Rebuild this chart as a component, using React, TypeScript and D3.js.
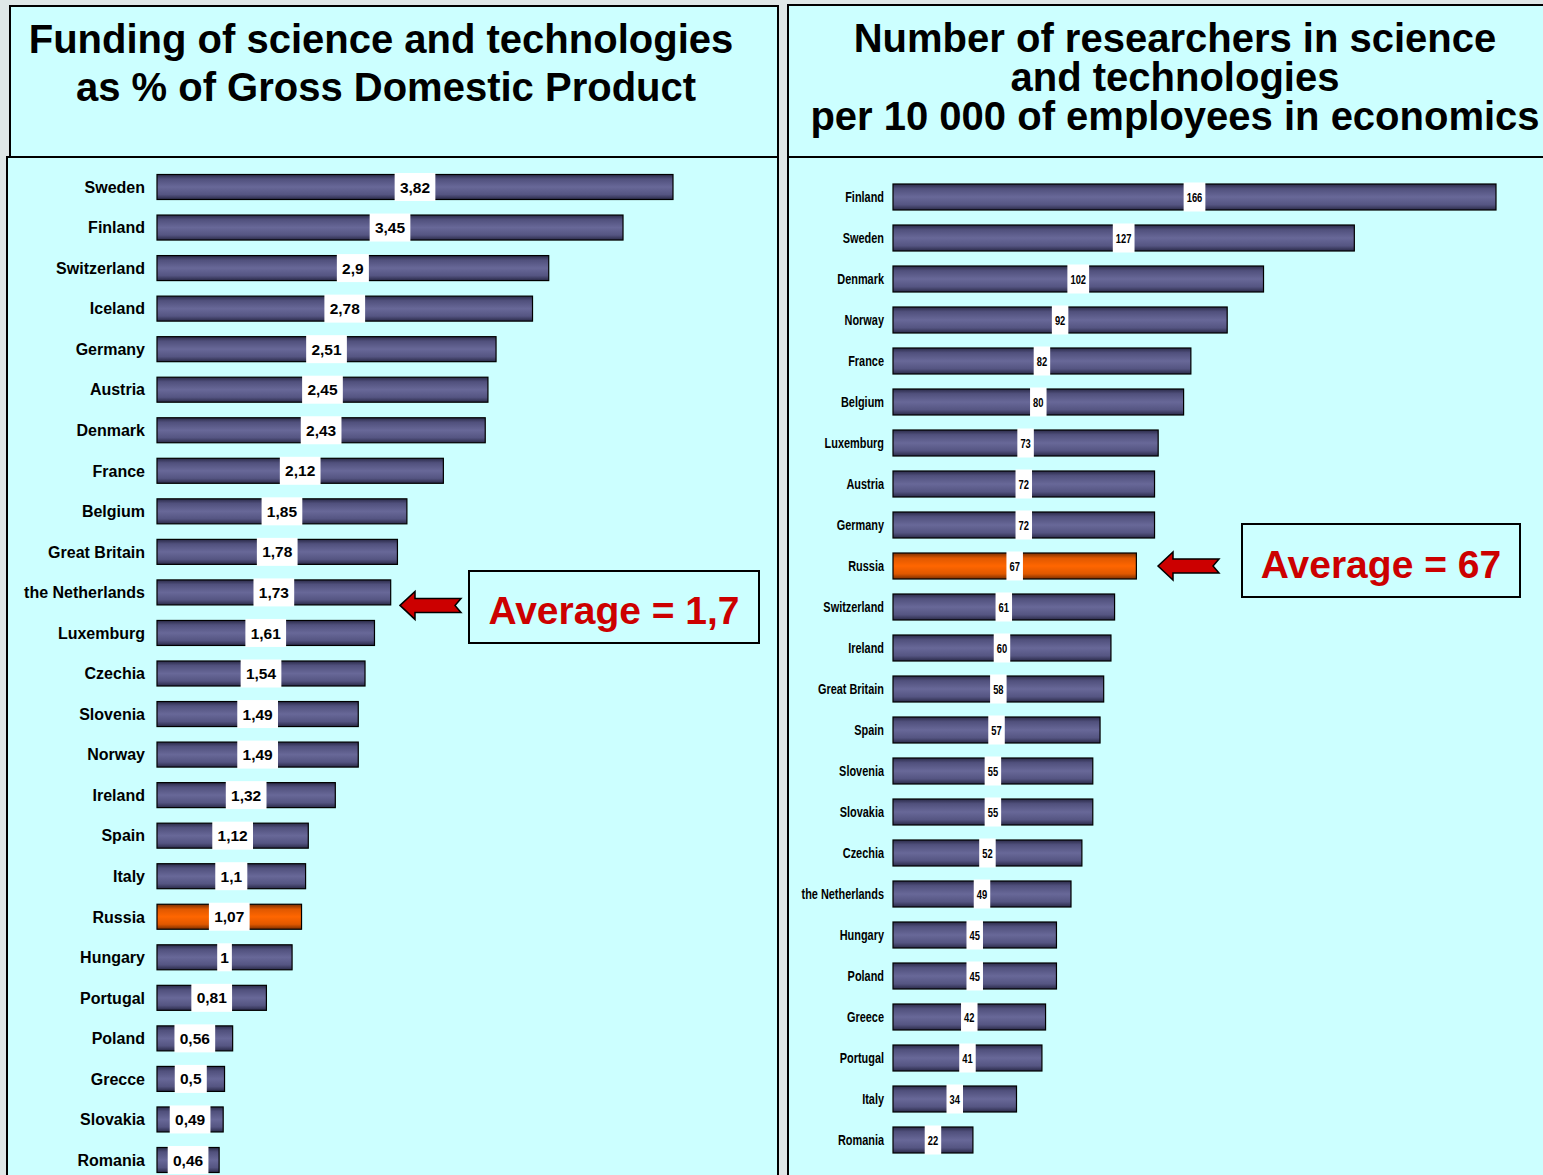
import React from "react";
import * as d3 from "d3";

const leftCountries = ["Sweden","Finland","Switzerland","Iceland","Germany","Austria","Denmark","France","Belgium","Great Britain","the Netherlands","Luxemburg","Czechia","Slovenia","Norway","Ireland","Spain","Italy","Russia","Hungary","Portugal","Poland","Grecce","Slovakia","Romania"];
const leftValues = [3.82,3.45,2.9,2.78,2.51,2.45,2.43,2.12,1.85,1.78,1.73,1.61,1.54,1.49,1.49,1.32,1.12,1.1,1.07,1,0.81,0.56,0.5,0.49,0.46];
const rightCountries = ["Finland","Sweden","Denmark","Norway","France","Belgium","Luxemburg","Austria","Germany","Russia","Switzerland","Ireland","Great Britain","Spain","Slovenia","Slovakia","Czechia","the Netherlands","Hungary","Poland","Greece","Portugal","Italy","Romania"];
const rightValues = [166,127,102,92,82,80,73,72,72,67,61,60,58,57,55,55,52,49,45,45,42,41,34,22];
const leftTitle = ["Funding of science and technologies","as % of Gross Domestic Product"];
const rightTitle = ["Number of researchers in science","and technologies","per 10 000 of employees in economics"];
const leftAverage = "Average = 1,7";
const rightAverage = "Average = 67";
const highlight = "Russia";

const BG = "#ccffff";
const ARIAL = "'Liberation Sans', Arial, sans-serif";

const arrowPath = "M0,0 L15,-14 L15,-7 L61,-7 L55,0 L61,7 L15,7 L15,14 Z";

function Bars({ countries, values, x, y, barH, labelX, labelSize, labelWeight, labelScale, valSize, valWeight, valScale, valPad, valExtra }) {
  return (
    <g>
      {countries.map((c, i) => {
        const v = values[i];
        const cy = y(c);
        const x0 = x(0);
        const x1 = x(v);
        const mid = (x0 + x1) / 2;
        const txt = String(v).replace(".", ",");
        const tw = txt.length * valSize * 0.56 * valScale + valPad * 2;
        return (
          <g key={c + i}>
            <text transform={`translate(${labelX},${cy + labelSize * 0.36}) scale(${labelScale},1)`} textAnchor="end" fontFamily={ARIAL} fontSize={labelSize} fontWeight={labelWeight} fill="#000">{c}</text>
            <rect x={x0} y={cy - barH / 2} width={x1 - x0} height={barH} fill={c === highlight ? "url(#gOrange)" : "url(#gBlue)"} stroke="#000" strokeWidth={1.2} />
            <rect x={mid - tw / 2} y={cy - barH / 2 - valExtra} width={tw} height={barH + valExtra * 2} fill="#fff" />
            <text transform={`translate(${mid},${cy + valSize * 0.36}) scale(${valScale},1)`} textAnchor="middle" fontFamily={ARIAL} fontSize={valSize} fontWeight={valWeight} fill="#000">{txt}</text>
          </g>
        );
      })}
    </g>
  );
}

export default function App() {
  const xL = d3.scaleLinear().domain([0, 3.82]).range([157, 673]);
  const yL = d3.scalePoint().domain(leftCountries).range([187, 1160]);
  const xR = d3.scaleLinear().domain([0, 166]).range([893, 1496]);
  const yR = d3.scalePoint().domain(rightCountries).range([197, 1140]);
  const avgL = yL("the Netherlands") + 13;
  const avgR = yR(highlight);

  return (
    <svg width={1543} height={1175} style={{ position: "absolute", left: 0, top: 0, display: "block" }}>
      <defs>
        <linearGradient id="gBlue" x1="0" y1="0" x2="0" y2="1">
          <stop offset="0" stopColor="#2a2a48" />
          <stop offset="0.18" stopColor="#50507c" />
          <stop offset="0.5" stopColor="#686898" />
          <stop offset="0.8" stopColor="#555582" />
          <stop offset="1" stopColor="#2a2a48" />
        </linearGradient>
        <linearGradient id="gOrange" x1="0" y1="0" x2="0" y2="1">
          <stop offset="0" stopColor="#7a2e00" />
          <stop offset="0.2" stopColor="#e05800" />
          <stop offset="0.5" stopColor="#ff6600" />
          <stop offset="0.8" stopColor="#e05800" />
          <stop offset="1" stopColor="#7a2e00" />
        </linearGradient>
      </defs>
      <rect x={0} y={0} width={1543} height={1175} fill="#dfe7e7" />
      {/* left panel */}
      <rect x={10} y={6} width={768} height={152} fill={BG} stroke="#000" strokeWidth={2} />
      <rect x={7} y={157} width={771} height={1030} fill={BG} stroke="#000" strokeWidth={2} />
      {leftTitle.map((t, i) => (
        <text key={t} x={381 + i * 5} y={53 + i * 48} textAnchor="middle" fontFamily={ARIAL} fontWeight="bold" fontSize={40} fill="#000">{t}</text>
      ))}
      <Bars countries={leftCountries} values={leftValues} x={xL} y={yL} barH={25} labelX={145}
        labelSize={16} labelWeight="bold" labelScale={1} valSize={15.5} valWeight="bold" valScale={1} valPad={3} valExtra={1.5} />
      <path d={arrowPath} transform={`translate(400,${avgL})`} fill="#cc0000" stroke="#000" strokeWidth={1.5} />
      <rect x={469} y={571} width={290} height={72} fill={BG} stroke="#000" strokeWidth={2} />
      <text x={614} y={624} textAnchor="middle" fontFamily={ARIAL} fontWeight="bold" fontSize={39} fill="#cc0000">{leftAverage}</text>

      {/* right panel */}
      <rect x={788} y={5} width={760} height={152} fill={BG} stroke="#000" strokeWidth={2} />
      <rect x={788} y={157} width={760} height={1030} fill={BG} stroke="#000" strokeWidth={2} />
      {rightTitle.map((t, i) => (
        <text key={t} x={1175} y={52 + i * 39} textAnchor="middle" fontFamily={ARIAL} fontWeight="bold" fontSize={40} fill="#000">{t}</text>
      ))}
      <Bars countries={rightCountries} values={rightValues} x={xR} y={yR} barH={26} labelX={884}
        labelSize={14} labelWeight="bold" labelScale={0.78} valSize={12.5} valWeight="bold" valScale={0.75} valPad={3} valExtra={1.5} />
      <path d={arrowPath} transform={`translate(1158,${avgR})`} fill="#cc0000" stroke="#000" strokeWidth={1.5} />
      <rect x={1242} y={524} width={278} height={73} fill={BG} stroke="#000" strokeWidth={2} />
      <text x={1381} y={578} textAnchor="middle" fontFamily={ARIAL} fontWeight="bold" fontSize={39} fill="#cc0000">{rightAverage}</text>
    </svg>
  );
}
